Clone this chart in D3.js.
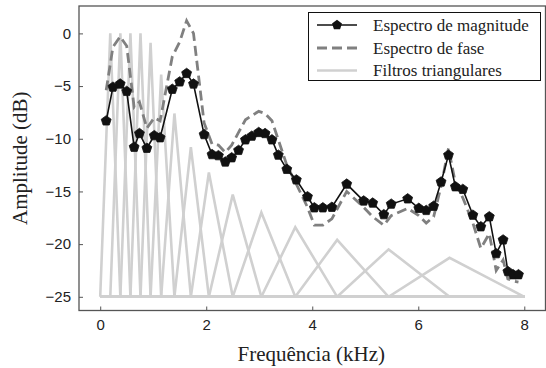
<!DOCTYPE html>
<html>
<head>
<meta charset="utf-8">
<script src="https://cdn.jsdelivr.net/npm/d3@7"></script>
<style>
html,body{margin:0;padding:0;background:#fff;}
svg{display:block;}
</style>
</head>
<body>
<svg id="chart" width="546" height="368"></svg>
<script>
// ---- data ----
const magFreq = [0.113,0.24,0.377,0.50,0.64,0.74,0.88,1.02,1.13,1.36,1.50,1.63,1.76,1.96,2.11,2.23,2.36,2.48,2.61,2.74,2.86,2.99,3.11,3.24,3.36,3.52,3.70,3.91,4.04,4.20,4.37,4.65,4.97,5.14,5.35,5.49,5.80,6.01,6.15,6.29,6.43,6.57,6.70,6.84,7.03,7.18,7.34,7.47,7.60,7.69,7.79,7.89];
const magDb = [-8.3,-5.1,-4.8,-5.5,-10.8,-9.5,-10.9,-9.7,-9.9,-5.3,-4.6,-3.8,-4.8,-9.6,-11.5,-11.6,-12.2,-11.8,-11.1,-10.1,-9.75,-9.4,-9.5,-10.1,-11.55,-12.9,-13.9,-15.5,-16.55,-16.55,-16.5,-14.3,-15.9,-16.1,-17.2,-16.2,-15.7,-16.6,-16.8,-16.4,-14.1,-11.55,-14.55,-14.8,-17.25,-18.35,-17.4,-20.9,-19.6,-22.6,-22.9,-22.9];
const phaseDb = [-5.4,-1.3,-0.3,-1.2,-7.0,-6.5,-9.0,-8.0,-8.3,-2.2,-0.8,1.2,0.0,-8.5,-10.5,-10.6,-11.3,-10.6,-9.4,-8.2,-7.8,-7.4,-7.6,-8.3,-10.1,-12.5,-14.3,-16.5,-18.2,-18.2,-17.6,-15.0,-16.5,-17.4,-18.2,-17.3,-16.6,-17.3,-18.0,-17.4,-14.5,-10.9,-14.2,-15.6,-18.0,-20.4,-19.0,-22.5,-21.5,-23.3,-23.5,-23.6];
const filterEdges = [0,0.19,0.38,0.57,0.76,0.95,1.15,1.40,1.71,2.05,2.50,3.04,3.68,4.47,5.44,6.59,8.0];
const filterPeaks = [0,0,0,0,-0.9,-3.9,-7.6,-10.8,-13.2,-15.3,-17.0,-18.4,-19.6,-20.5,-21.3];
const filterFloor = -25;
const xTicks = [0,2,4,6,8];
const yTicks = [0,-5,-10,-15,-20,-25];
const legendLabels = ["Espectro de magnitude","Espectro de fase","Filtros triangulares"];
const xLabel = "Frequência (kHz)";
const yLabel = "Amplitude (dB)";

// ---- layout ----
const svg = d3.select("#chart");
const L = 79, R = 545.5, T = 6, B = 310.5;
const x = d3.scaleLinear().domain([-0.4, 8.4]).range([L, R]);
const y = d3.scaleLinear().domain([-26.3, 2.6]).range([B, T]);

const defs = svg.append("defs");
defs.append("clipPath").attr("id","clip").append("rect")
  .attr("x",L).attr("y",T).attr("width",R-L).attr("height",B-T);

const plot = svg.append("g").attr("clip-path","url(#clip)");

// filters
const line = d3.line().x(d=>x(d[0])).y(d=>y(d[1]));
filterPeaks.forEach((p,i)=>{
  const pts = [[filterEdges[0],filterFloor],[filterEdges[i],filterFloor],[filterEdges[i+1],p],[filterEdges[i+2],filterFloor],[filterEdges[filterEdges.length-1],filterFloor]];
  plot.append("path").attr("d",line(pts)).attr("fill","none")
    .attr("stroke","#d0d0d0").attr("stroke-width",2.6).attr("stroke-linejoin","miter");
});

// phase
const phasePts = magFreq.map((f,i)=>[f,phaseDb[i]]);
plot.append("path").attr("d",line(phasePts)).attr("fill","none")
  .attr("stroke","#808080").attr("stroke-width",2.8).attr("stroke-dasharray","10,5");

// magnitude
const magPts = magFreq.map((f,i)=>[f,magDb[i]]);
plot.append("path").attr("d",line(magPts)).attr("fill","none")
  .attr("stroke","#111").attr("stroke-width",1.6);

function pentagon(r){
  const pts = d3.range(5).map(k=>{
    const a = (-90 + k*72)*Math.PI/180;
    return [r*Math.cos(a), r*Math.sin(a)];
  });
  return "M"+pts.map(p=>p[0].toFixed(2)+","+p[1].toFixed(2)).join("L")+"Z";
}
const pent = pentagon(5.2);
plot.selectAll("path.mk").data(magPts).enter().append("path")
  .attr("class","mk").attr("d",pent)
  .attr("transform",d=>`translate(${x(d[0])},${y(d[1])})`)
  .attr("fill","#111").attr("stroke","#111").attr("stroke-width",0.8);

// axes
const axisColor = "#555";
const xAxis = svg.append("g").attr("transform",`translate(0,${B})`)
  .call(d3.axisBottom(x).tickValues(xTicks).tickFormat(d3.format("d")).tickSizeInner(-4).tickSizeOuter(0).tickPadding(9));
const yAxis = svg.append("g").attr("transform",`translate(${L},0)`)
  .call(d3.axisLeft(y).tickValues(yTicks).tickFormat(d=>d<0?"\u2212"+Math.abs(d):d).tickSizeInner(-4).tickSizeOuter(0).tickPadding(8));
[xAxis,yAxis].forEach(a=>{
  a.select(".domain").remove();
  a.selectAll(".tick line").attr("stroke",axisColor).attr("stroke-width",1);
  a.selectAll(".tick text").attr("font-family","Liberation Sans, Arial, sans-serif")
    .attr("font-size",15).attr("fill","#222");
});
svg.append("rect").attr("x",L).attr("y",T).attr("width",R-L).attr("height",B-T)
  .attr("fill","none").attr("stroke",axisColor).attr("stroke-width",1.3);

// axis labels
svg.append("text").attr("x",(L+R)/2-1).attr("y",361).attr("text-anchor","middle")
  .attr("font-family","Liberation Serif, Times New Roman, serif").attr("font-size",21).attr("fill","#222")
  .text(xLabel);
svg.append("text").attr("transform",`translate(27,${(T+B)/2}) rotate(-90)`).attr("text-anchor","middle")
  .attr("font-family","Liberation Serif, Times New Roman, serif").attr("font-size",21).attr("fill","#222")
  .text(yLabel);

// legend
const lg = svg.append("g");
lg.append("rect").attr("x",308.5).attr("y",12.5).attr("width",232).attr("height",68)
  .attr("fill","#fff").attr("stroke","#111").attr("stroke-width",1);
const rowsY = [25,48,70.5];
lg.append("line").attr("x1",317).attr("x2",357).attr("y1",rowsY[0]).attr("y2",rowsY[0])
  .attr("stroke","#111").attr("stroke-width",1.6);
lg.append("path").attr("d",pent).attr("transform",`translate(337,${rowsY[0]})`).attr("fill","#111");
lg.append("line").attr("x1",317).attr("x2",357).attr("y1",rowsY[1]).attr("y2",rowsY[1])
  .attr("stroke","#808080").attr("stroke-width",2.8).attr("stroke-dasharray","10,5");
lg.append("line").attr("x1",317).attr("x2",357).attr("y1",rowsY[2]).attr("y2",rowsY[2])
  .attr("stroke","#d0d0d0").attr("stroke-width",2.6);
legendLabels.forEach((t,i)=>{
  lg.append("text").attr("x",373).attr("y",rowsY[i]+5.5)
    .attr("font-family","Liberation Serif, Times New Roman, serif").attr("font-size",17).attr("fill","#222")
    .text(t);
});
</script>
</body>
</html>
